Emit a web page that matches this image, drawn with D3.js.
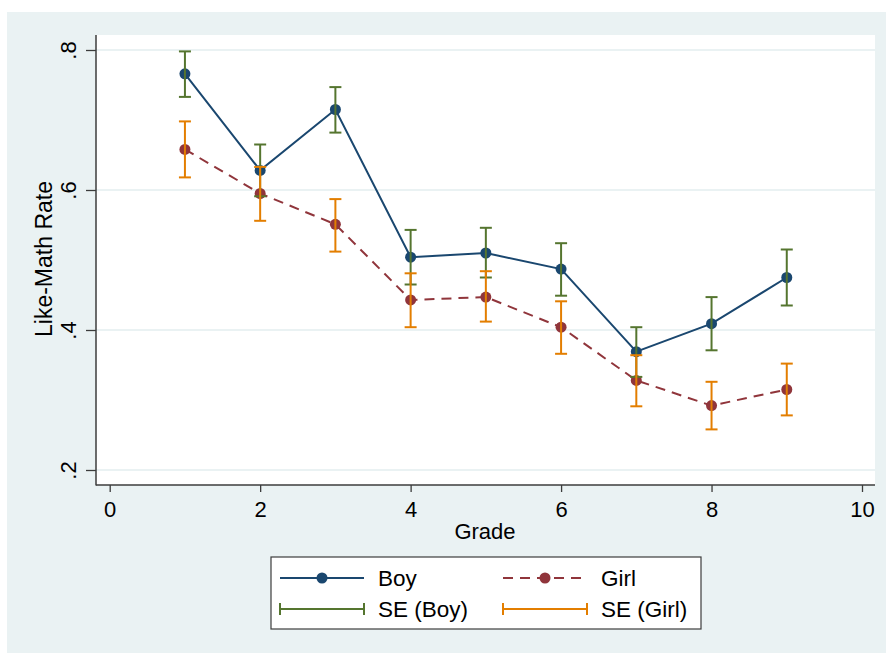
<!DOCTYPE html>
<html>
<head>
<meta charset="utf-8">
<script src="https://cdn.jsdelivr.net/npm/d3@7"></script>
<style>
  html, body { margin: 0; padding: 0; background: #ffffff; }
  svg { display: block; }
  text { font-family: Arial, "Liberation Sans", sans-serif; fill: #000; }
</style>
</head>
<body>
<svg id="chart" width="886" height="653"></svg>
<script>
// ---- data ----
const grades = [1, 2, 3, 4, 5, 6, 7, 8, 9];
const boyRate = [0.766, 0.628, 0.715, 0.504, 0.510, 0.487, 0.369, 0.409, 0.475];
const boySEHigh = [0.798, 0.665, 0.747, 0.543, 0.546, 0.524, 0.404, 0.447, 0.515];
const boySELow = [0.733, 0.591, 0.682, 0.465, 0.475, 0.449, 0.333, 0.371, 0.435];
const girlRate = [0.658, 0.595, 0.551, 0.443, 0.447, 0.404, 0.328, 0.292, 0.315];
const girlSEHigh = [0.698, 0.633, 0.587, 0.481, 0.484, 0.441, 0.364, 0.326, 0.352];
const girlSELow = [0.618, 0.556, 0.512, 0.404, 0.412, 0.366, 0.291, 0.258, 0.278];
const xTicks = [0, 2, 4, 6, 8, 10];
const yTicks = [0.2, 0.4, 0.6, 0.8];
const yTickLabels = [".2", ".4", ".6", ".8"];
const legendLabels = ["Boy", "Girl", "SE (Boy)", "SE (Girl)"];

// ---- style ----
const C = {
  bg: "#eaf2f3",
  boy: "#1a476f",
  girl: "#90353b",
  seBoy: "#55752f",
  seGirl: "#e37e00",
  axis: "#3c3c3c"
};
const FS = 22;

const svg = d3.select("#chart");
const W = 886, H = 653;

// outer graph region
svg.append("rect").attr("x", 7).attr("y", 12).attr("width", W - 7).attr("height", H - 12).attr("fill", C.bg);

const plot = { left: 96, right: 875, top: 35, bottom: 485 };
svg.append("rect").attr("x", plot.left).attr("y", plot.top)
  .attr("width", plot.right - plot.left).attr("height", plot.bottom - plot.top).attr("fill", "#fff");

const x = d3.scaleLinear().domain([0, 10]).range([109.7, 862]);
const y = d3.scaleLinear().domain([0.2, 0.8]).range([470, 50]);

// gridlines
svg.append("g").selectAll("line").data(yTicks).join("line")
  .attr("x1", plot.left).attr("x2", plot.right)
  .attr("y1", d => y(d)).attr("y2", d => y(d))
  .attr("stroke", C.bg).attr("stroke-width", 2);

// axes
const yAxis = d3.axisLeft(y).tickValues(yTicks).tickSize(10).tickPadding(8)
  .tickFormat((d, i) => yTickLabels[i]);
const gy = svg.append("g").attr("transform", `translate(${plot.left},0)`).call(yAxis);
gy.select(".domain").remove();
gy.selectAll(".tick line").attr("stroke", C.axis).attr("stroke-width", 1.3);
gy.selectAll(".tick text").each(function() {
  d3.select(this).attr("x", 0).attr("y", 0)
    .attr("transform", "translate(-28,0) rotate(-90)")
    .attr("dy", "0.35em")
    .attr("text-anchor", "middle")
    .attr("font-size", FS)
    .attr("fill", "#000");
});

const xAxis = d3.axisBottom(x).tickValues(xTicks).tickSize(7).tickPadding(9);
const gx = svg.append("g").attr("transform", `translate(0,${plot.bottom})`).call(xAxis);
gx.select(".domain").remove();
gx.selectAll(".tick line").attr("stroke", C.axis).attr("stroke-width", 1.3);
gx.selectAll(".tick text").attr("font-size", FS).attr("fill", "#000");

// axis lines
svg.append("line").attr("x1", plot.left).attr("x2", plot.left).attr("y1", plot.top).attr("y2", plot.bottom + 0.5)
  .attr("stroke", C.axis).attr("stroke-width", 1.5);
svg.append("line").attr("x1", plot.left).attr("x2", plot.right).attr("y1", plot.bottom).attr("y2", plot.bottom)
  .attr("stroke", C.axis).attr("stroke-width", 1.5);

// axis titles
svg.append("text").attr("x", 485).attr("y", 539)
  .attr("text-anchor", "middle").attr("font-size", FS).text("Grade");
svg.append("text").attr("transform", `translate(44,${(plot.top + plot.bottom) / 2 - 1}) rotate(-90)`)
  .attr("dy", "0.35em").attr("text-anchor", "middle").attr("font-size", 23).text("Like-Math Rate");

// lines
const boyData = grades.map((g, i) => ({ g, v: boyRate[i] }));
const girlData = grades.map((g, i) => ({ g, v: girlRate[i] }));
const line = d3.line().x(d => x(d.g)).y(d => y(d.v));

svg.append("path").datum(boyData).attr("d", line).attr("fill", "none")
  .attr("stroke", C.boy).attr("stroke-width", 2);
svg.append("g").selectAll("circle").data(boyData).join("circle")
  .attr("cx", d => x(d.g)).attr("cy", d => y(d.v)).attr("r", 5.5).attr("fill", C.boy);

svg.append("path").datum(girlData).attr("d", line).attr("fill", "none")
  .attr("stroke", C.girl).attr("stroke-width", 2).attr("stroke-dasharray", "10,7");
svg.append("g").selectAll("circle").data(girlData).join("circle")
  .attr("cx", d => x(d.g)).attr("cy", d => y(d.v)).attr("r", 5.5).attr("fill", C.girl);

// error bars
function rcap(hi, lo, color) {
  const data = grades.map((g, i) => ({ g, hi: hi[i], lo: lo[i] }));
  const g = svg.append("g").attr("stroke", color).attr("stroke-width", 2).attr("fill", "none");
  g.selectAll("line.v").data(data).join("line").attr("class", "v")
    .attr("x1", d => x(d.g)).attr("x2", d => x(d.g))
    .attr("y1", d => y(d.hi)).attr("y2", d => y(d.lo));
  g.selectAll("line.t").data(data).join("line").attr("class", "t")
    .attr("x1", d => x(d.g) - 6).attr("x2", d => x(d.g) + 6)
    .attr("y1", d => y(d.hi)).attr("y2", d => y(d.hi));
  g.selectAll("line.b").data(data).join("line").attr("class", "b")
    .attr("x1", d => x(d.g) - 6).attr("x2", d => x(d.g) + 6)
    .attr("y1", d => y(d.lo)).attr("y2", d => y(d.lo));
}
rcap(boySEHigh, boySELow, C.seBoy);
rcap(girlSEHigh, girlSELow, C.seGirl);

// legend
const lg = svg.append("g");
lg.append("rect").attr("x", 271).attr("y", 557).attr("width", 430).attr("height", 72)
  .attr("fill", "#fff").attr("stroke", "#3c3c3c").attr("stroke-width", 1.2);

const items = [
  { label: legendLabels[0], type: "line", color: C.boy, dash: null, x0: 280, row: 0 },
  { label: legendLabels[1], type: "line", color: C.girl, dash: "10,7", x0: 503, row: 0 },
  { label: legendLabels[2], type: "cap", color: C.seBoy, x0: 280, row: 1 },
  { label: legendLabels[3], type: "cap", color: C.seGirl, x0: 503, row: 1 }
];
const rowY = [578, 609];
items.forEach(it => {
  const yy = rowY[it.row];
  const x1 = it.x0, x2 = it.x0 + 84;
  if (it.type === "line") {
    lg.append("line").attr("x1", x1).attr("x2", x2).attr("y1", yy).attr("y2", yy)
      .attr("stroke", it.color).attr("stroke-width", 2)
      .attr("stroke-dasharray", it.dash);
    lg.append("circle").attr("cx", (x1 + x2) / 2).attr("cy", yy).attr("r", 5.5).attr("fill", it.color);
  } else {
    lg.append("line").attr("x1", x1).attr("x2", x2).attr("y1", yy).attr("y2", yy)
      .attr("stroke", it.color).attr("stroke-width", 2);
    lg.append("line").attr("x1", x1).attr("x2", x1).attr("y1", yy - 6).attr("y2", yy + 6)
      .attr("stroke", it.color).attr("stroke-width", 2);
    lg.append("line").attr("x1", x2).attr("x2", x2).attr("y1", yy - 6).attr("y2", yy + 6)
      .attr("stroke", it.color).attr("stroke-width", 2);
  }
  lg.append("text").attr("x", x2 + 14).attr("y", yy).attr("dy", "0.36em")
    .attr("font-size", 22.5).text(it.label);
});
</script>
</body>
</html>
